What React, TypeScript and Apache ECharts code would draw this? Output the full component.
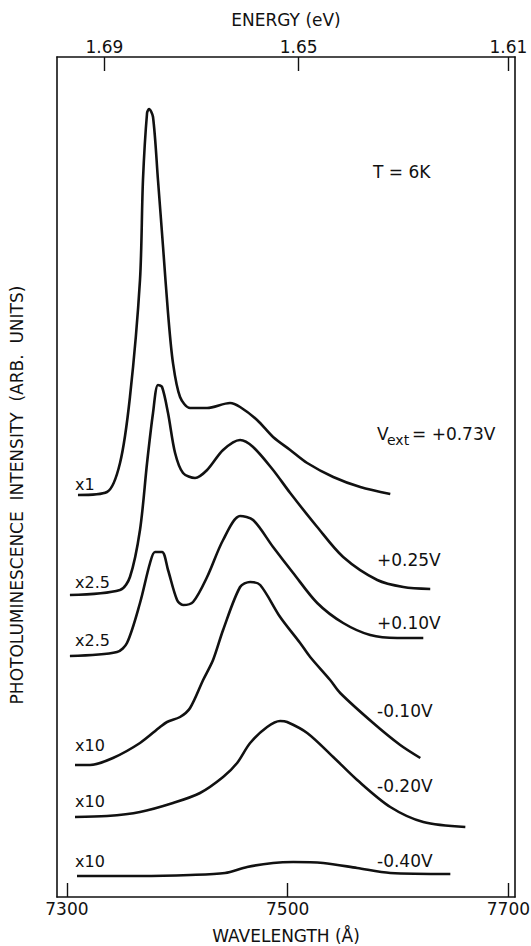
import React, { useEffect, useRef } from "react";
import * as echarts from "echarts";

// Wavelength (Å) vs photoluminescence intensity (arb. units), curves offset vertically
const curve073: [number, number][] = [
  [7310.0, 40.2], [7336.3, 40.5], [7348.1, 43.4], [7357.1, 50.0], [7366.2, 61.7],
  [7368.9, 71.7], [7372.6, 78.4], [7374.4, 78.8], [7378.0, 78.0], [7382.5, 71.7],
  [7387.1, 65.0], [7391.6, 58.4], [7396.1, 53.4], [7402.5, 50.0], [7411.6, 48.9],
  [7427.0, 48.9], [7447.8, 49.4], [7456.9, 49.0], [7472.3, 47.7], [7486.8, 46.0],
  [7502.3, 44.7], [7517.7, 43.4], [7541.3, 42.0], [7565.8, 41.0], [7593.0, 40.3],
];
const curve025: [number, number][] = [
  [7302.7, 30.2], [7348.1, 30.7], [7357.1, 32.0], [7366.2, 36.7], [7372.6, 43.4],
  [7378.0, 48.4], [7382.5, 51.2], [7386.2, 51.0], [7391.6, 48.4], [7398.0, 44.4],
  [7405.2, 42.4], [7416.1, 41.9], [7427.0, 42.7], [7441.5, 44.7], [7456.9, 45.7],
  [7468.7, 45.0], [7486.8, 42.7], [7502.3, 40.4], [7526.8, 37.0], [7550.3, 34.0],
  [7581.2, 31.7], [7604.8, 31.0], [7629.2, 30.8],
];
const curve010: [number, number][] = [
  [7302.7, 24.1], [7345.4, 24.5], [7354.4, 25.4], [7366.2, 29.4], [7375.3, 33.4],
  [7379.8, 34.5], [7386.2, 34.5], [7391.6, 32.7], [7399.8, 29.7], [7405.2, 29.2],
  [7414.3, 29.5], [7427.0, 32.0], [7441.5, 35.7], [7456.9, 38.1], [7468.7, 37.7],
  [7486.8, 35.0], [7505.0, 32.4], [7526.8, 29.4], [7550.3, 27.4], [7574.8, 26.2],
  [7599.3, 25.9], [7622.9, 25.9],
];
const curveM010: [number, number][] = [
  [7307.3, 13.2], [7320.9, 13.2], [7341.7, 13.9], [7366.2, 15.4], [7384.4, 17.0],
  [7390.7, 17.5], [7402.5, 18.0], [7411.6, 18.9], [7423.4, 21.7], [7432.4, 23.7],
  [7441.5, 26.7], [7456.9, 31.0], [7466.0, 31.5], [7475.1, 31.2], [7493.2, 28.0],
  [7511.3, 25.4], [7520.4, 24.0], [7538.5, 21.7], [7547.6, 20.4], [7577.5, 17.4],
  [7602.0, 15.2], [7620.2, 13.9],
];
const curveM020: [number, number][] = [
  [7307.3, 8.0], [7336.3, 8.1], [7366.2, 8.5], [7396.1, 9.4], [7420.6, 10.4],
  [7441.5, 12.0], [7454.2, 13.4], [7466.0, 15.4], [7481.4, 17.0], [7493.2, 17.6],
  [7499.5, 17.5], [7517.7, 16.4], [7541.3, 14.0], [7563.0, 11.7], [7593.0, 9.0],
  [7622.9, 7.5], [7661.0, 7.0],
];
const curveM040: [number, number][] = [
  [7309.1, 2.1], [7366.2, 2.1], [7411.6, 2.2], [7443.3, 2.4], [7463.3, 3.0],
  [7486.8, 3.4], [7505.0, 3.5], [7532.2, 3.4], [7563.0, 2.9], [7593.0, 2.4],
  [7647.4, 2.3],
];

const wavelengthTicks = [7300, 7500, 7700];
const energyTickLabels = ["1.69", "1.65", "1.61"];
const energyTickWavelengths = [7334, 7510, 7700];

const FONT = '"DejaVu Sans", "Liberation Sans", sans-serif';
const INK = "#111";

export default function App() {
  const ref = useRef<HTMLDivElement>(null);
  useEffect(() => {
    document.body.style.margin = "0";
    if (!ref.current) return;
    const chart = echarts.init(ref.current, undefined, { renderer: "svg" });
    const mkSeries = (data: [number, number][]) => ({
      type: "line",
      data,
      xAxisIndex: 0,
      yAxisIndex: 0,
      showSymbol: false,
      symbol: "none",
      smooth: 0.3,
      lineStyle: { color: INK, width: 2.6 },
      z: 3,
    });
    const txt = (text: string, x: number, y: number, size = 17, extra: any = {}) => ({
      type: "text",
      x,
      y,
      style: {
        text,
        fontSize: size,
        fontFamily: FONT,
        fill: INK,
        align: "left",
        verticalAlign: "middle",
        ...extra,
      },
    });
    const axisLine = { show: true, onZero: false, lineStyle: { color: INK, width: 1.6 } };
    chart.setOption({
      animation: false,
      backgroundColor: "#fff",
      grid: {
        left: 57,
        right: 16,
        top: 57,
        bottom: 49,
        containLabel: false,
        outerBoundsMode: "none",
      },
      xAxis: [
        {
          type: "value",
          position: "bottom",
          min: 7291,
          max: 7706,
          axisLine,
          axisTick: {
            show: true,
            inside: true,
            length: 14,
            customValues: wavelengthTicks,
            lineStyle: { color: INK, width: 1.4 },
          },
          axisLabel: {
            customValues: wavelengthTicks,
            formatter: (v: number) => String(v),
            color: INK,
            fontSize: 17,
            fontFamily: FONT,
            margin: 3,
          },
          splitLine: { show: false },
          name: "WAVELENGTH (Å)",
          nameLocation: "middle",
          nameGap: 30,
          nameTextStyle: { color: INK, fontSize: 17, fontFamily: FONT },
        },
        {
          type: "value",
          position: "top",
          min: 7291,
          max: 7706,
          axisLine,
          axisTick: {
            show: true,
            inside: true,
            length: 14,
            customValues: energyTickWavelengths,
            lineStyle: { color: INK, width: 1.4 },
          },
          axisLabel: {
            customValues: energyTickWavelengths,
            formatter: (v: number) => {
              let best = 0;
              energyTickWavelengths.forEach((w, i) => {
                if (Math.abs(w - v) < Math.abs(energyTickWavelengths[best] - v)) best = i;
              });
              return energyTickLabels[best];
            },
            color: INK,
            fontSize: 17,
            fontFamily: FONT,
            margin: 2,
          },
          splitLine: { show: false },
          name: "ENERGY (eV)",
          nameLocation: "middle",
          nameGap: 29,
          nameTextStyle: { color: INK, fontSize: 17, fontFamily: FONT },
        },
      ],
      yAxis: [
        {
          type: "value",
          position: "left",
          min: 0,
          max: 84,
          axisLine,
          axisTick: { show: false },
          axisLabel: { show: false },
          splitLine: { show: false },
        },
        {
          type: "value",
          position: "right",
          min: 0,
          max: 84,
          axisLine,
          axisTick: { show: false },
          axisLabel: { show: false },
          splitLine: { show: false },
        },
      ],
      series: [
        mkSeries(curve073),
        mkSeries(curve025),
        mkSeries(curve010),
        mkSeries(curveM010),
        mkSeries(curveM020),
        mkSeries(curveM040),
      ],
      graphic: [
        {
          type: "text",
          x: 17,
          y: 495,
          rotation: Math.PI / 2,
          style: {
            text: "PHOTOLUMINESCENCE  INTENSITY  (ARB.  UNITS)",
            fontSize: 17,
            fontFamily: FONT,
            fill: INK,
            align: "center",
            verticalAlign: "middle",
          },
        },
        txt("T = 6K", 373, 172),
        txt("V", 377, 434),
        txt("ext", 387, 440, 14),
        txt("= +0.73V", 412, 434),
        txt("+0.25V", 377, 560),
        txt("+0.10V", 377, 623),
        txt("-0.10V", 377, 711),
        txt("-0.20V", 377, 786),
        txt("-0.40V", 377, 861),
        txt("x1", 75, 484, 16),
        txt("x2.5", 75, 582, 16),
        txt("x2.5", 75, 640, 16),
        txt("x10", 75, 745, 16),
        txt("x10", 75, 801, 16),
        txt("x10", 75, 861, 16),
      ],
    });
    return () => chart.dispose();
  }, []);
  return (
    <div
      ref={ref}
      style={{ width: 531, height: 946, position: "absolute", left: 0, top: 0 }}
    />
  );
}
